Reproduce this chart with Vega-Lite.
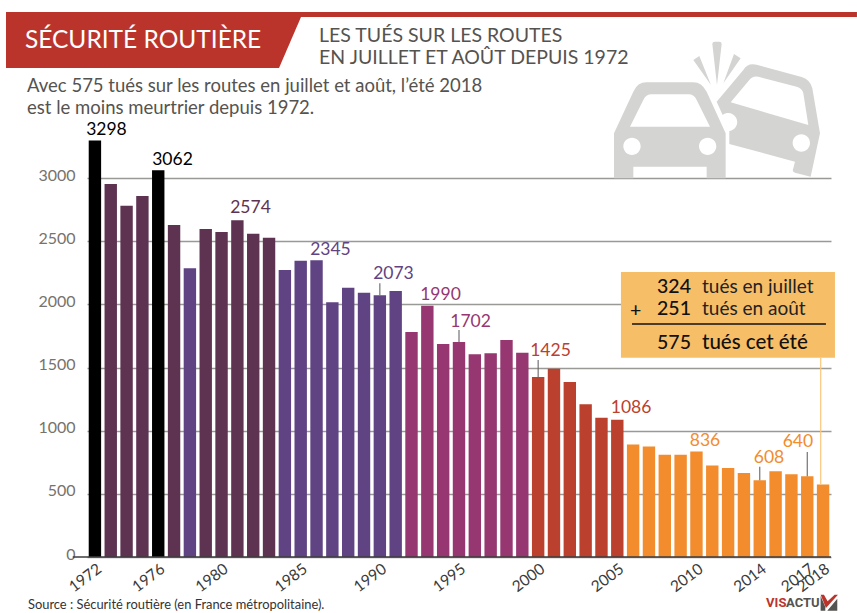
{
"$schema":"https://vega.github.io/schema/vega-lite/v6.json",
"width":744,"height":442,
"autosize":{"type":"none"},
"padding":{"left":87,"top":115,"right":26,"bottom":56},
"background":"white",
"config":{"view":{"stroke":null},"text":{"font":"Lato"}},
"encoding":{
"x":{"field":"year","type":"quantitative","title":null,"scale":{"domain":[1971.5,2018.5],"nice":false,"zero":false,"padding":0},
"axis":{"values":[1972,1976,1980,1985,1990,1995,2000,2005,2010,2014,2017,2018],"format":"d","grid":false,"ticks":false,"domain":false,"labelAngle":-37,"labelAlign":"right","labelBaseline":"top","labelPadding":4,"labelFontSize":15.5,"labelFont":"Lato","labelColor":"#3a3a3a","labelOverlap":false,"labelFlush":false,"zindex":1}},
"y":{"field":"value","type":"quantitative","title":null,"scale":{"domain":[0,3500],"nice":false,"padding":0},
"axis":{"values":[0,500,1000,1500,2000,2500,3000],"format":"d","grid":true,"gridColor":"#999996","gridWidth":1.3,"ticks":false,"domain":false,"labelPadding":12,"labelOffset":-3,"labelFontSize":16,"labelFont":"Lato","labelColor":"#77726c"}}
},
"datasets":{
"bars":[
{"year":1972,"value":3298,"period":"a"},{"year":1973,"value":2954,"period":"b"},{"year":1974,"value":2782,"period":"b"},{"year":1975,"value":2859,"period":"b"},{"year":1976,"value":3062,"period":"a"},{"year":1977,"value":2629,"period":"b"},{"year":1978,"value":2286,"period":"c"},{"year":1979,"value":2597,"period":"b"},{"year":1980,"value":2574,"period":"b"},{"year":1981,"value":2666,"period":"b"},{"year":1982,"value":2560,"period":"b"},{"year":1983,"value":2528,"period":"b"},{"year":1984,"value":2273,"period":"c"},{"year":1985,"value":2345,"period":"c"},{"year":1986,"value":2350,"period":"c"},{"year":1987,"value":2017,"period":"c"},{"year":1988,"value":2133,"period":"c"},{"year":1989,"value":2093,"period":"c"},{"year":1990,"value":2073,"period":"c"},{"year":1991,"value":2106,"period":"c"},{"year":1992,"value":1782,"period":"d"},{"year":1993,"value":1990,"period":"d"},{"year":1994,"value":1687,"period":"d"},{"year":1995,"value":1702,"period":"d"},{"year":1996,"value":1605,"period":"d"},{"year":1997,"value":1613,"period":"d"},{"year":1998,"value":1718,"period":"d"},{"year":1999,"value":1618,"period":"d"},{"year":2000,"value":1425,"period":"e"},{"year":2001,"value":1491,"period":"e"},{"year":2002,"value":1386,"period":"e"},{"year":2003,"value":1209,"period":"e"},{"year":2004,"value":1103,"period":"e"},{"year":2005,"value":1086,"period":"e"},{"year":2006,"value":890,"period":"f"},{"year":2007,"value":875,"period":"f"},{"year":2008,"value":810,"period":"f"},{"year":2009,"value":810,"period":"f"},{"year":2010,"value":836,"period":"f"},{"year":2011,"value":725,"period":"f"},{"year":2012,"value":705,"period":"f"},{"year":2013,"value":665,"period":"f"},{"year":2014,"value":608,"period":"f"},{"year":2015,"value":680,"period":"f"},{"year":2016,"value":655,"period":"f"},{"year":2017,"value":640,"period":"f"},{"year":2018,"value":575,"period":"f"}
],
"labels":[
{"year":1972.73,"value":3381,"label":"3298","period":"a"},{"year":1976.9,"value":3144,"label":"3062","period":"a"},{"year":1981.83,"value":2764,"label":"2574","period":"b"},{"year":1986.88,"value":2431,"label":"2345","period":"c"},{"year":1990.86,"value":2241,"label":"2073","period":"c"},{"year":1993.83,"value":2075,"label":"1990","period":"d"},{"year":1995.73,"value":1861,"label":"1702","period":"d"},{"year":2000.78,"value":1631,"label":"1425","period":"e"},{"year":2005.87,"value":1180,"label":"1086","period":"e"},{"year":2010.54,"value":919,"label":"836","period":"f"},{"year":2014.58,"value":784,"label":"608","period":"f"},{"year":2016.41,"value":911,"label":"640","period":"f"}
]
},
"layer":[
{"data":{"values":[{"year":1966.383,"value":4315.6,"y2":4276,"x2":2020.14}]},"mark":{"type":"rect","color":"#bb342c"},"encoding":{"x2":{"field":"x2"},"y2":{"field":"y2"}}},
{"data":{"values":[{"year":1966.383,"value":4276,"y2":3872.2},{"year":1983.63,"value":4276,"y2":3872.2},{"year":1985.02,"value":4276,"y2":4276}]},"mark":{"type":"area","color":"#bb342c","interpolate":"linear"},"encoding":{"y2":{"field":"y2"}}},
{"data":{"values":[{"year":2003.907,"value":4173}]},"mark":{"type":"point","filled":true,"opacity":1,"color":"#d4d4d2","strokeWidth":0,"size":0.4444,
"shape":"M42 445L42 310L100 185Q112 157 140 157L280 157Q305 157 320 185L377 310L377 445L320 445L320 410L100 410L100 445ZM90 290L330 290L290 210Q283 193 265 193L155 193Q137 193 130 210ZM70 349a26 26 0 1 0 52 0a26 26 0 1 0 -52 0ZM297 349a26 26 0 1 0 52 0a26 26 0 1 0 -52 0ZM350 215L430 120Q442 98 470 104L605 141Q632 150 637 175L660 310L632 440L585 428Q575 424 580 415L585 395L388 342L388 303A27 27 0 1 0 368 255ZM392 217L625 285L610 190Q607 175 590 170L475 140Q458 136 448 150ZM578 339a26 26 0 1 0 52 0a26 26 0 1 0 -52 0ZM337 42Q337 35 344 35L358 35Q365 35 365 42L351 165ZM280 90L298 78L333 165ZM402 72L422 85L370 160Z"}},
{"data":{"name":"bars"},"mark":{"type":"bar","size":12.4,"orient":"vertical"},"encoding":{"color":{"field":"period","type":"nominal","legend":null,"scale":{"domain":["a","b","c","d","e","f"],"range":["#000000","#5e3352","#5f4383","#963772","#bb402d","#f28c2d"]}}}},
{"data":{"values":[{"year":1970.6,"value":0,"x2":2018.5}]},"mark":{"type":"rule","color":"#3c3c3c","strokeWidth":1.3},"encoding":{"x2":{"field":"x2"}}},
{"data":{"values":[{"year":2014,"value":608,"y2":715},{"year":2017,"value":640,"y2":831},{"year":2000,"value":1425,"y2":1560},{"year":1995,"value":1702,"y2":1797},{"year":1990,"value":2073,"y2":2167}]},"mark":{"type":"rule","color":"#666666","strokeWidth":1.1},"encoding":{"y2":{"field":"y2"}}},
{"data":{"values":[{"year":2017.85,"value":575,"y2":1578}]},"mark":{"type":"rule","color":"#f9c77a","strokeWidth":1.2},"encoding":{"y2":{"field":"y2"}}},
{"data":{"name":"labels"},"mark":{"type":"text","fontSize":17.5,"baseline":"middle","align":"center"},"encoding":{"text":{"field":"label"},"color":{"field":"period","type":"nominal","legend":null,"scale":{"domain":["a","b","c","d","e","f"],"range":["#000000","#5e3352","#5a4a8c","#963772","#bb402d","#dd8a3a"]}}}},
{"data":{"values":[{"year":2005.23,"value":2256.8,"x2":2018.75,"y2":1578}]},"mark":{"type":"rect","color":"#f7be68"},"encoding":{"x2":{"field":"x2"},"y2":{"field":"y2"}}},
{"data":{"values":[{"year":2005.93,"value":1845,"x2":2018.18}]},"mark":{"type":"rule","color":"#111111","strokeWidth":1.5},"encoding":{"x2":{"field":"x2"}}},
{"data":{"values":[{"year":2007.51,"value":2138,"t":"324"},{"year":2007.51,"value":1960,"t":"251"},{"year":2007.51,"value":1695,"t":"575"},{"year":2005.8,"value":1950,"t":"+"}]},"mark":{"type":"text","fontSize":19.5,"align":"left","baseline":"middle","color":"#111111","fontWeight":500},"encoding":{"text":{"field":"t"}}},
{"data":{"values":[{"year":2010.35,"value":2138,"t":"tués en juillet"},{"year":2010.35,"value":1960,"t":"tués en août"}]},"mark":{"type":"text","fontSize":19,"align":"left","baseline":"middle","color":"#222222"},"encoding":{"text":{"field":"t"}}},
{"data":{"values":[{"year":2010.35,"value":1695,"t":"tués cet été"}]},"mark":{"type":"text","fontSize":20.5,"align":"left","baseline":"middle","color":"#111111","fontWeight":500},"encoding":{"text":{"field":"t"}}},
{"data":{"values":[{"year":1967.58,"value":4086,"t":"SÉCURITÉ ROUTIÈRE"}]},"mark":{"type":"text","fontSize":24.5,"align":"left","baseline":"middle","color":"#ffffff"},"encoding":{"text":{"field":"t"}}},
{"data":{"values":[{"year":1986.16,"value":4126,"t":"LES TUÉS SUR LES ROUTES"},{"year":1986.16,"value":3951,"t":"EN JUILLET ET AOÛT DEPUIS 1972"}]},"mark":{"type":"text","fontSize":19.5,"align":"left","baseline":"middle","color":"#555350"},"encoding":{"text":{"field":"t"}}},
{"data":{"values":[{"year":1967.71,"value":3730,"t":"Avec 575 tués sur les routes en juillet et août, l’été 2018"},{"year":1967.71,"value":3555,"t":"est le moins meurtrier depuis 1972."}]},"mark":{"type":"text","fontSize":18.5,"align":"left","baseline":"middle","color":"#555350"},"encoding":{"text":{"field":"t"}}},
{"data":{"values":[{"year":1967.77,"value":-380,"t":"Source : Sécurité routière (en France métropolitaine)."}]},"mark":{"type":"text","fontSize":12.9,"align":"left","baseline":"middle","color":"#333333"},"encoding":{"text":{"field":"t"}}},
{"data":{"values":[{"year":2014.4,"value":-364,"t":"VIS"}]},"mark":{"type":"text","fontSize":13,"font":"Roboto","fontWeight":"bold","align":"left","baseline":"middle","color":"#bb342c"},"encoding":{"text":{"field":"t"}}},
{"data":{"values":[{"year":2015.66,"value":-364,"t":"ACTU"}]},"mark":{"type":"text","fontSize":13,"font":"Roboto","fontWeight":"bold","align":"left","baseline":"middle","color":"#555350"},"encoding":{"text":{"field":"t"}}},
{"data":{"values":[{"year":2013.38,"value":-182}]},"mark":{"type":"point","filled":true,"opacity":1,"color":"#555350","strokeWidth":0,"size":0.4444,"shape":"M232 92L262 56L262 92ZM212 48L226 80L226 92L212 92Z"}},
{"data":{"values":[{"year":2013.38,"value":-182}]},"mark":{"type":"point","filled":true,"opacity":1,"color":"#bb342c","strokeWidth":0,"size":0.4444,"shape":"M212 44L222 44L233 64L254 44L264 44L228 84Z"}}
]
}
